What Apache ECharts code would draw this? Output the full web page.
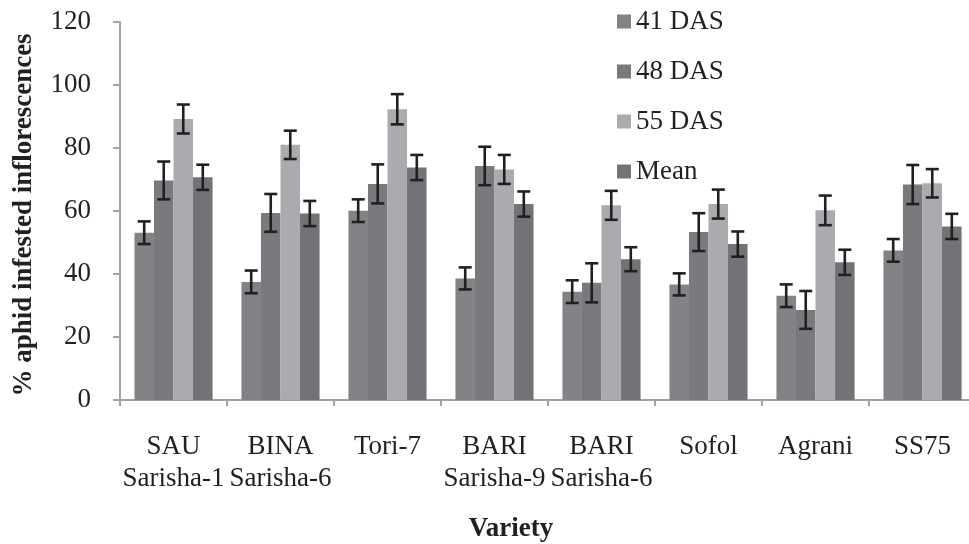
<!DOCTYPE html>
<html>
<head>
<meta charset="utf-8">
<script src="https://cdn.jsdelivr.net/npm/echarts@6/dist/echarts.min.js"></script>
<style>
html,body{margin:0;padding:0;background:#fff;}
#chart{width:969px;height:544px;}
</style>
</head>
<body>
<div id="chart"></div>
<script>
var categories = ['SAU\nSarisha-1','BINA\nSarisha-6','Tori-7','BARI\nSarisha-9','BARI\nSarisha-6','Sofol','Agrani','SS75'];
var seriesNames = ['41 DAS','48 DAS','55 DAS','Mean'];
var das41 = [53.1, 37.5, 60.1, 38.6, 34.4, 36.7, 33.1, 47.5];
var das48 = [69.7, 59.4, 68.6, 74.3, 37.2, 53.3, 28.6, 68.4];
var das55 = [89.2, 81.0, 92.3, 73.2, 61.8, 62.2, 60.2, 68.8];
var meanVals = [70.7, 59.2, 73.8, 62.2, 44.7, 49.5, 43.7, 55.1];
var err41 = [3.6, 3.6, 3.6, 3.5, 3.6, 3.5, 3.6, 3.6];
var err48 = [6.0, 6.0, 6.2, 6.1, 6.2, 6.0, 6.0, 6.2];
var err55 = [4.6, 4.5, 4.8, 4.6, 4.6, 4.6, 4.7, 4.5];
var errMean = [4.0, 4.0, 4.0, 4.0, 3.8, 4.0, 4.0, 4.0];
var yTicks = [0, 20, 40, 60, 80, 100, 120];

var values = [das41, das48, das55, meanVals];
var errors = [err41, err48, err55, errMean];
var colors = ['#838387', '#7a7a7e', '#aaabaf', '#737377'];
var catGap = 0.27;
var textColor = '#231f20';
var fontFam = '"Liberation Serif", "Times New Roman", serif';

var chart = echarts.init(document.getElementById('chart'), null, {renderer: 'canvas'});

var series = [];
seriesNames.forEach(function (name, i) {
  series.push({
    name: name,
    type: 'bar',
    data: values[i],
    barGap: '0%',
    barCategoryGap: (catGap * 100) + '%',
    itemStyle: {color: colors[i]},
    z: 2
  });
});
seriesNames.forEach(function (name, i) {
  series.push({
    name: name + ' err',
    type: 'custom',
    z: 5,
    encode: {x: 0, y: 1},
    data: values[i].map(function (v, k) { return [k, v, errors[i][k]]; }),
    renderItem: function (params, api) {
      var idx = api.value(0), v = api.value(1), e = api.value(2);
      var band = api.size([1, 0])[0];
      var bw = band * (1 - catGap) / 4;
      var off = (i - 1.5) * bw;
      var top = api.coord([idx, v + e]);
      var bot = api.coord([idx, v - e]);
      var x = top[0] + off;
      var cap = 6.5;
      var st = {stroke: textColor, lineWidth: 2.6};
      return {
        type: 'group',
        children: [
          {type: 'line', shape: {x1: x, y1: top[1], x2: x, y2: bot[1]}, style: st},
          {type: 'line', shape: {x1: x - cap, y1: top[1], x2: x + cap, y2: top[1]}, style: st},
          {type: 'line', shape: {x1: x - cap, y1: bot[1], x2: x + cap, y2: bot[1]}, style: st}
        ]
      };
    }
  });
});

var option = {
  animation: false,
  backgroundColor: '#ffffff',
  textStyle: {fontFamily: fontFam, color: textColor},
  legend: {
    data: seriesNames,
    orient: 'vertical',
    left: 612,
    top: 3,
    itemWidth: 14,
    itemHeight: 14,
    itemGap: 23,
    icon: 'rect',
    textStyle: {fontFamily: fontFam, fontSize: 27, color: textColor}
  },
  grid: {left: 120, top: 22, width: 856, height: 378, containLabel: false, outerBoundsMode: 'none'},
  xAxis: {
    type: 'category',
    data: categories,
    name: 'Variety',
    nameLocation: 'middle',
    nameGap: 116,
    nameTextStyle: {fontFamily: fontFam, fontSize: 27, fontWeight: 'bold', color: textColor, padding: [0, 74, 0, 0]},
    axisLine: {lineStyle: {color: '#a3a3a6', width: 2}},
    axisTick: {show: true, length: 6, lineStyle: {color: '#a3a3a6', width: 2}},
    axisLabel: {fontFamily: fontFam, fontSize: 27, color: textColor, margin: 31, lineHeight: 32, interval: 0}
  },
  yAxis: {
    type: 'value',
    min: yTicks[0],
    max: yTicks[yTicks.length - 1],
    interval: yTicks[1] - yTicks[0],
    name: '% aphid infested inflorescences',
    nameLocation: 'middle',
    nameGap: 82,
    nameTextStyle: {fontFamily: fontFam, fontSize: 27, fontWeight: 'bold', color: textColor, padding: [0, 8, 0, 0]},
    axisLine: {show: true, lineStyle: {color: '#a3a3a6', width: 2}},
    axisTick: {show: true, length: 7, lineStyle: {color: '#a3a3a6', width: 2}},
    splitLine: {show: false},
    axisLabel: {fontFamily: fontFam, fontSize: 27, color: textColor, margin: 29}
  },
  series: series
};
chart.setOption(option);
</script>
</body>
</html>
